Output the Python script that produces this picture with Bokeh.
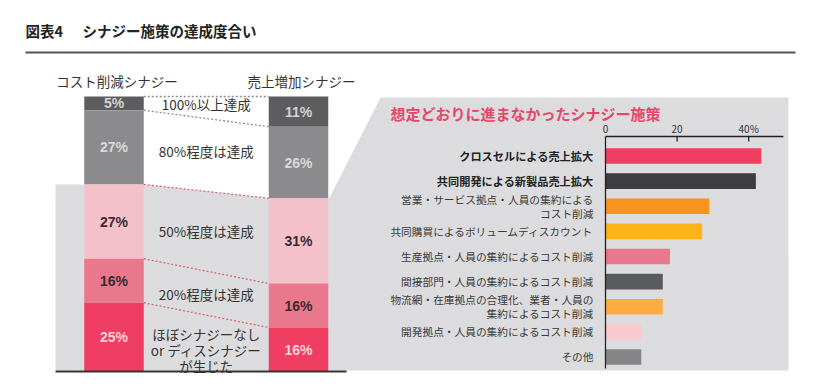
import numpy as np
from bokeh.plotting import figure
from bokeh.models import Range1d, ColumnDataSource
from bokeh.core.properties import value
from bokeh.embed import file_html
from bokeh.resources import INLINE

# ---------------- data ----------------
groups = ["コスト削減シナジー", "売上増加シナジー"]
levels = ["100%以上達成", "80%程度は達成", "50%程度は達成", "20%程度は達成",
          "ほぼシナジーなし\nor ディスシナジー\nが生じた"]
cost_share = [5, 27, 27, 16, 25]
sales_share = [11, 26, 31, 16, 16]

measures = ["クロスセルによる売上拡大", "共同開発による新製品売上拡大",
            "営業・サービス拠点・人員の集約による\nコスト削減",
            "共同購買によるボリュームディスカウント",
            "生産拠点・人員の集約によるコスト削減",
            "間接部門・人員の集約によるコスト削減",
            "物流網・在庫拠点の合理化、業者・人員の\n集約によるコスト削減",
            "開発拠点・人員の集約によるコスト削減", "その他"]
measure_pct = [43.5, 42, 29, 27, 18, 16, 16, 10, 10]
measure_bold = [True, True, False, False, False, False, False, False, False]
bar_ticks = [0, 20, 40]
tick_labels = ["0", "20", "40%"]

# ---------------- style ----------------
FONT = "Noto Sans CJK JP"
NUM_FONT = "Liberation Sans"
level_colors = ["#5d5d5f", "#8b8b8d", "#f4c1ca", "#e9788d", "#ef3e61"]
level_text = ["#d2d2d2", "#d8d8d8", "#3b2a2e", "#3b2a2e", "#fcd3db"]
dot_colors = ["#8c8c8c", "#8c8c8c", "#e0607c", "#e0607c", "#e0607c"]
label_dy = [-4, -4, 0, 1, 7]
measure_colors = ["#ef3e61", "#3d3d3f", "#f7931e", "#fdb515", "#e9788d",
                  "#5a5b5d", "#fbad42", "#f8c9cd", "#858587"]
PANEL = "#dcdcde"

# ---------------- layout ----------------
W, H = 805, 376
PX0, PX1, PY0, PY1 = 0, W, H, 0               # page pixel frame
PCT_Y0, PCT_S = 371.0, 2.75                   # stacked bar: 0% baseline, px per %
GRP_X0, GRP_S = 113.5, 184.5                  # stacked bar group centers
BW = 0.3225                                   # stacked bar width (group units)
VAL_X0, VAL_S = 605.0, 3.58                   # right chart: zero, px per %
RANK_Y0, RANK_S = 155.5, 25.12                # right chart row spacing
AXIS_MAX = 49.7

p = figure(width=W, height=H, x_range=Range1d(PX0, PX1), y_range=Range1d(PY0, PY1),
           output_backend="svg", toolbar_location=None, min_border=0,
           x_axis_location=None, y_axis_location=None, outline_line_color=None,
           background_fill_color="white", border_fill_color="white")
p.grid.visible = False
p.extra_y_ranges = {
    "pct": Range1d(start=(PCT_Y0 - PY0) / PCT_S, end=(PCT_Y0 - PY1) / PCT_S),
    "rank": Range1d(start=(PY0 - RANK_Y0) / RANK_S, end=(PY1 - RANK_Y0) / RANK_S),
}
p.extra_x_ranges = {
    "grp": Range1d(start=(PX0 - GRP_X0) / GRP_S, end=(PX1 - GRP_X0) / GRP_S),
    "val": Range1d(start=(PX0 - VAL_X0) / VAL_S, end=(PX1 - VAL_X0) / VAL_S),
}

def tops_of(shares):
    s = np.array(shares, dtype=float)
    tops = 100 - np.concatenate([[0], np.cumsum(s)[:-1]])
    return tops, tops - s

lt, lb = tops_of(cost_share)
rt, rb = tops_of(sales_share)

def ypx(pct):
    return PCT_Y0 - pct * PCT_S

def xpx(g):
    return GRP_X0 + g * GRP_S

# grey panel
lx_r = xpx(0 + BW / 2)
rx_l = xpx(1 - BW / 2)
rx_r = xpx(1 + BW / 2)
p.patch(x=[55, lx_r, rx_l, rx_r + 1, 380, 788, 788, 55],
        y=[ypx(lt[2]), ypx(lt[2]), ypx(rt[2]), ypx(rt[2]), 97, 97, 370, 370],
        fill_color=PANEL, line_color=None)

# title
p.text(x=[25], y=[30], text=["図表4"], text_font=value(FONT), text_font_size="14.5px",
       text_font_style="bold", text_color="#222222", text_baseline="middle")
p.text(x=[82], y=[30], text=["シナジー施策の達成度合い"], text_font=value(FONT),
       text_font_size="14.5px", text_font_style="bold", text_color="#222222",
       text_baseline="middle")
p.segment(x0=[25], y0=[52], x1=[795], y1=[52], line_color="#555555", line_width=2)

# stacked bars
for g, shares, tops, bots in [(0, cost_share, lt, lb), (1, sales_share, rt, rb)]:
    src = ColumnDataSource(dict(x=[g] * len(shares), top=tops, bottom=bots,
                                color=level_colors, tcolor=level_text,
                                mid=(tops + bots) / 2,
                                lab=[f"{v}%" for v in shares]))
    p.vbar(x="x", width=BW, top="top", bottom="bottom", fill_color="color",
           line_color=None, source=src, x_range_name="grp", y_range_name="pct")
    p.text(x="x", y="mid", text="lab", text_color="tcolor", source=src,
           text_font=value(NUM_FONT), text_font_size="14px", text_font_style="bold",
           text_align="center", text_baseline="middle",
           x_range_name="grp", y_range_name="pct")

# column titles
p.text(x=[0, 1], y=[80, 80], text=groups, text_font=value(FONT), text_font_size="13.5px",
       text_color="#333333", text_align="center", text_baseline="middle",
       x_offset=3, x_range_name="grp")

# dotted connectors
p.segment(x0=[BW / 2] * 5, y0=lt, x1=[1 - BW / 2] * 5, y1=rt, line_color=dot_colors,
          line_width=1.3, line_dash="2 2", x_range_name="grp", y_range_name="pct")

# level labels between bars
mids = ((lt + lb) / 2 + (rt + rb) / 2) / 2
for lab, m, dy in zip(levels, mids, label_dy):
    p.text(x=[0.5], y=[m], text=[lab], y_offset=dy, text_font=value(FONT),
           text_font_size="13.5px", text_color="#333333", text_align="center",
           text_baseline="middle", text_line_height=0.8,
           x_range_name="grp", y_range_name="pct")

# bottom base line
p.segment(x0=[55], y0=[371], x1=[346], y1=[371], line_color="#333333", line_width=2)

# right panel title
p.text(x=[390], y=[113], text=["想定どおりに進まなかったシナジー施策"], text_font=value(FONT),
       text_font_size="15px", text_font_style="bold", text_color="#e8456a",
       text_baseline="middle")

# right chart bars
ranks = list(range(len(measures)))
p.hbar(y=ranks, left=0, right=measure_pct, height=0.62, fill_color=measure_colors,
       line_color=None, x_range_name="val", y_range_name="rank")

for bold_flag, style, col in [(True, "bold", "#222222"), (False, "normal", "#3a3a3a")]:
    idx = [i for i in ranks if measure_bold[i] == bold_flag]
    p.text(x=[0] * len(idx), y=idx, text=[measures[i] for i in idx], x_offset=-12,
           text_font=value(FONT), text_font_size="11.2px" if bold_flag else "10.7px",
           text_font_style=style, text_color=col, text_align="right",
           text_baseline="middle", text_line_height=0.95,
           x_range_name="val", y_range_name="rank")

# right chart axis
p.segment(x0=[0], y0=[136], x1=[AXIS_MAX], y1=[136], line_color="#222222",
          line_width=1.3, x_range_name="val")
p.segment(x0=[0], y0=[136], x1=[0], y1=[368], line_color="#222222",
          line_width=1.3, x_range_name="val")
p.segment(x0=bar_ticks[1:], y0=[136] * 2, x1=bar_ticks[1:], y1=[141] * 2,
          line_color="#222222", line_width=1.3, x_range_name="val")
p.text(x=bar_ticks, y=[128] * 3, text=tick_labels, text_font=value(FONT),
       text_font_size="10px", text_color="#333333", text_align="center",
       text_baseline="middle", x_range_name="val")

open("out.html", "w").write(file_html(p, INLINE))
